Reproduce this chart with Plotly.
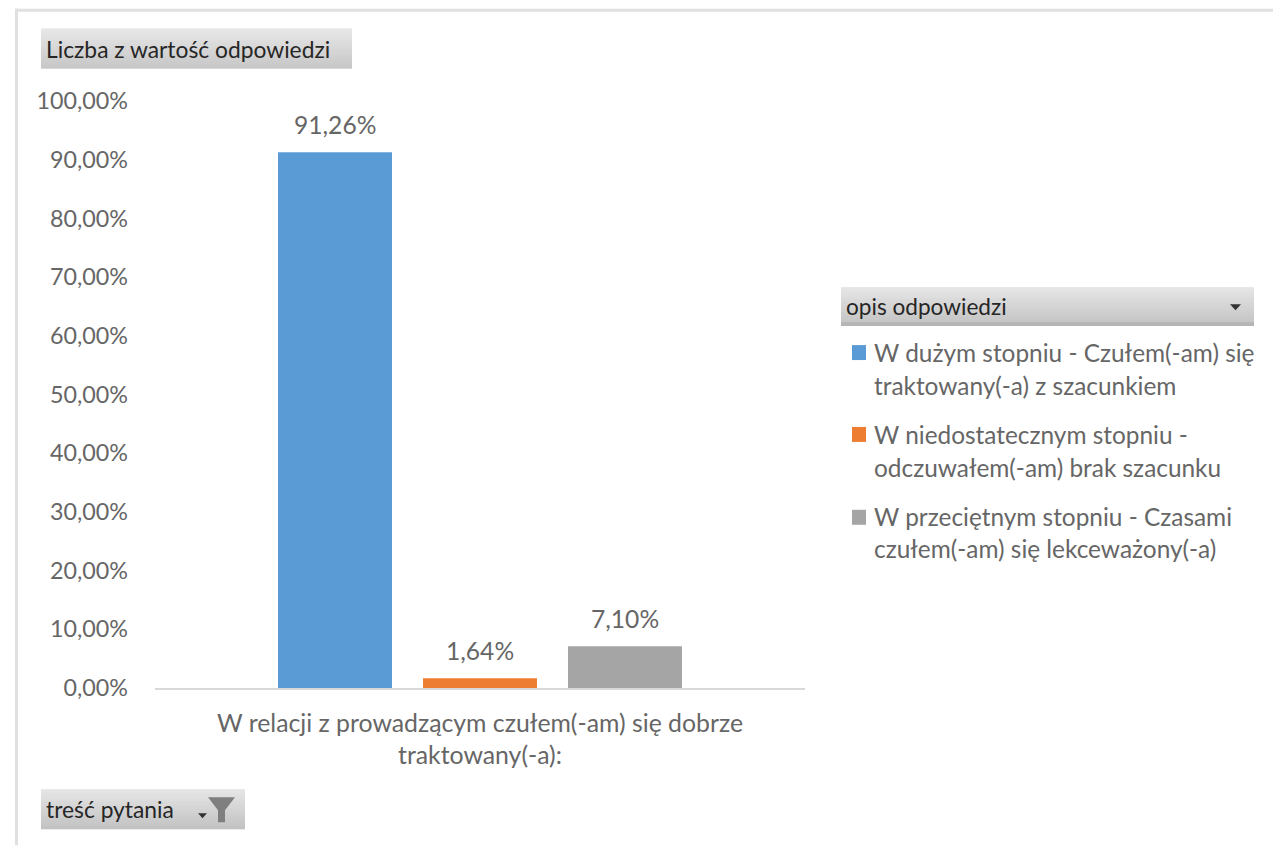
import plotly.graph_objects as go

category = "W relacji z prowadzącym czułem(-am) się dobrze<br>traktowany(-a):"
series_names = [
    ["W dużym stopniu - Czułem(-am) się", "traktowany(-a) z szacunkiem"],
    ["W niedostatecznym stopniu -", "odczuwałem(-am) brak szacunku"],
    ["W przeciętnym stopniu - Czasami", "czułem(-am) się lekceważony(-a)"],
]
series_values = [0.9126, 0.0164, 0.0710]
series_labels = ["91,26%", "1,64%", "7,10%"]
series_colors = ["#5B9BD5", "#ED7D31", "#A5A5A5"]
y_ticks = [0, 0.1, 0.2, 0.3, 0.4, 0.5, 0.6, 0.7, 0.8, 0.9, 1.0]

FONT = "Lato"
GREY = "#666666"
DARK = "#262626"
W, H = 1273, 846
L, R, T, B = 155, 805, 100.5, 688.5


def px(x):
    return (x - L) / (R - L)


def py(y):
    return (B - y) / (B - T)


shapes = []
annotations = []


def rect(x0, y0, x1, y1, color, layer="above"):
    shapes.append(dict(type="rect", xref="paper", yref="paper", x0=px(x0), x1=px(x1),
                       y0=py(y0), y1=py(y1), fillcolor=color, line_width=0, layer=layer))


def poly(points, color):
    path = "M " + " L ".join(f"{px(x)} {py(y)}" for x, y in points) + " Z"
    shapes.append(dict(type="path", xref="paper", yref="paper", path=path,
                       fillcolor=color, line_width=0, layer="above"))


def text(x, y, s, color=GREY, anchor="left", size=24.4):
    annotations.append(dict(xref="paper", yref="paper", x=px(x), y=py(y), text=s, showarrow=False,
                            xanchor=anchor, yanchor="middle", borderpad=0,
                            font=dict(family=FONT, size=size, color=color)))


def button(x0, y0, x1, y1, label, size):
    n = int(y1 - y0)
    for i in range(n):
        t = i / max(n - 1, 1)
        v = int(round(224 + (180 - 224) * t))
        rect(x0, y0 + i, x1, y0 + i + 1, f"rgb({v},{v},{v})")
    text(x0 + 4, (y0 + y1) / 2, label, DARK, size=size)


# outer frame
rect(15, 8, W, 11, "#E0E0E0")
rect(15, 8, 18, H, "#E0E0E0")

button(41, 28, 352, 68, "Liczba z wartość odpowiedzi", 22.8)
button(841, 287, 1254, 326, "opis odpowiedzi", 22.6)
button(41, 790, 245, 830, "treść pytania", 22.8)

poly([(1230, 304), (1241, 304), (1235.5, 310)], "#333333")
poly([(198, 814), (207, 814), (202.5, 819)], "#333333")
poly([(208, 798), (235, 798), (225, 811), (225, 823), (218, 823), (218, 811)], "#7F7F7F")

# legend
swatch_tops = [345, 427, 510]
line_ys = [(352, 385), (435, 468), (517, 549)]
for names, color, top, ys in zip(series_names, series_colors, swatch_tops, line_ys):
    rect(852, top, 866, top + 15, color)
    for s, y in zip(names, ys):
        text(873, y, s)

fig = go.Figure()
for i, (names, v, color) in enumerate(zip(series_names, series_values, series_colors)):
    fig.add_bar(x=[category], y=[v], name=" ".join(names), marker_color=color, marker_line_width=0)
    annotations.append(dict(x=category, y=v, xref="x", yref="y", text=series_labels[i], showarrow=False,
                            xshift=(i - 1) * 145, yshift=12, yanchor="bottom", borderpad=0,
                            font=dict(family=FONT, size=24.6, color=GREY)))

fig.update_layout(
    width=W, height=H,
    margin=dict(l=L, r=W - R, t=T, b=H - B, pad=0, autoexpand=False),
    paper_bgcolor="white", plot_bgcolor="white",
    barmode="group", bargap=0.3308, bargroupgap=0.214,
    showlegend=False, separators=", ",
    font=dict(family=FONT, size=22, color=GREY),
    shapes=shapes, annotations=annotations,
    xaxis=dict(showgrid=False, showline=True, linecolor="#D9D9D9", linewidth=2, ticks="",
               tickfont=dict(family=FONT, size=24.8, color=GREY), ticklabelstandoff=12),
    yaxis=dict(range=[0, 1], tickmode="array", tickvals=y_ticks, tickformat=".2%", showgrid=False,
               showline=False, zeroline=False, ticks="", ticklabelstandoff=26,
               tickfont=dict(family=FONT, size=23.3, color=GREY)),
)
fig.write_html("out.html", config=dict(displayModeBar=False),
               post_script="document.body.style.margin='0';document.documentElement.style.overflow='hidden';")
